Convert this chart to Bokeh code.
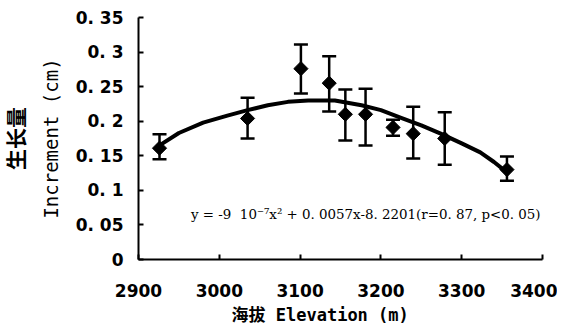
import math
from bokeh.plotting import figure
from bokeh.models import Range1d, FixedTicker, Label, Whisker, ColumnDataSource, TeeHead, Title
from bokeh.embed import file_html
from bokeh.resources import INLINE

# data
elevation = [2926, 3035, 3101, 3136, 3156, 3181, 3215, 3240, 3279, 3356]
increment = [0.161, 0.204, 0.276, 0.255, 0.210, 0.210, 0.191, 0.182, 0.175, 0.130]
err_upper = [0.181, 0.234, 0.311, 0.294, 0.246, 0.247, 0.202, 0.221, 0.213, 0.149]
err_lower = [0.145, 0.175, 0.240, 0.214, 0.172, 0.165, 0.179, 0.146, 0.137, 0.114]

fit_elev = [2926, 2950, 2980, 3010, 3035, 3060, 3085, 3110, 3143, 3176, 3200, 3225, 3250, 3274, 3300, 3323, 3340, 3356]
fit_inc = [0.165, 0.183, 0.198, 0.208, 0.216, 0.223, 0.228, 0.230, 0.230, 0.223, 0.216, 0.205, 0.194, 0.182, 0.168, 0.155, 0.141, 0.126]

x_ticks = [2900, 3000, 3100, 3200, 3300, 3400]
y_ticks = [0, 0.05, 0.1, 0.15, 0.2, 0.25, 0.3, 0.35]
y_tick_labels = ["0", "0. 05", "0. 1", "0. 15", "0. 2", "0. 25", "0. 3", "0. 35"]

equation = "y = -9\u00a0\u00a010⁻⁷x² + 0. 0057x-8. 2201(r=0. 87, p<0. 05)"
x_title = "海拔 Elevation (m)"
y_title_en = "Increment (cm)"
y_title_zh = "生长量"

p = figure(width=557, height=330, output_backend="svg", toolbar_location=None,
           x_range=Range1d(2900, 3400), y_range=Range1d(0, 0.35),
           min_border_left=135, min_border_right=15, min_border_top=17, min_border_bottom=71)
p.outline_line_color = None
p.xgrid.visible = False
p.ygrid.visible = False
p.background_fill_color = "white"
p.border_fill_color = "white"

for ax in (p.xaxis[0], p.yaxis[0]):
    ax.axis_line_width = 2
    ax.axis_line_color = "black"
    ax.major_tick_in = 5
    ax.major_tick_out = 0
    ax.major_tick_line_width = 2
    ax.minor_tick_line_color = None
    ax.major_label_text_font = "DejaVu Sans"
    ax.major_label_text_font_style = "bold"
    ax.major_label_text_font_size = "17px"
    ax.major_label_text_color = "black"

p.xaxis[0].ticker = FixedTicker(ticks=x_ticks)
p.xaxis[0].major_label_standoff = 24
p.yaxis[0].ticker = FixedTicker(ticks=y_ticks)
p.yaxis[0].major_label_overrides = {t: l for t, l in zip(y_ticks, y_tick_labels)}
p.yaxis[0].major_label_standoff = 15

# fitted curve
p.line(fit_elev, fit_inc, line_color="black", line_width=4)

# error bars
src = ColumnDataSource(dict(x=elevation, y=increment, up=err_upper, lo=err_lower))
w = Whisker(source=src, base="x", upper="up", lower="lo", line_width=2.5, line_color="black",
            upper_head=TeeHead(size=14, line_width=2.5, line_color="black"),
            lower_head=TeeHead(size=14, line_width=2.5, line_color="black"))
p.add_layout(w)

p.scatter("x", "y", source=src, marker="square", size=10, angle=math.pi / 4,
          fill_color="black", line_color="black", line_width=1)

# equation
p.add_layout(Label(x=2965, y=0.065, text=equation,
                   text_font="DejaVu Serif", text_font_size="13.4px",
                   text_baseline="middle", text_align="left", text_color="black"))

# axis titles
p.add_layout(Title(text=x_title, align="left", offset=93, standoff=7,
                   text_font="DejaVu Sans Mono, Noto Sans CJK SC", text_font_style="bold",
                   text_font_size="17px", text_color="black"), "below")
p.add_layout(Title(text=y_title_en, align="center", standoff=22,
                   text_font="DejaVu Sans Mono", text_font_style="normal",
                   text_font_size="19px", text_color="black"), "left")
p.add_layout(Title(text=y_title_zh, align="center", standoff=-6,
                   text_font="Noto Sans CJK SC", text_font_style="bold",
                   text_font_size="21px", text_color="black"), "left")

open("out.html", "w").write(file_html(p, INLINE))
